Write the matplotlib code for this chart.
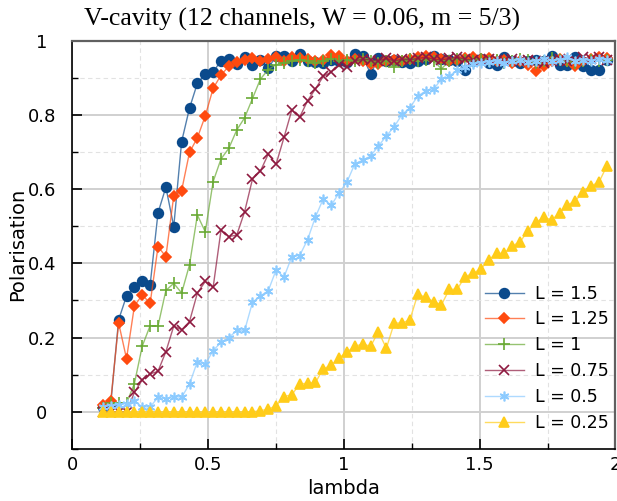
"""
V-cavity の偏極度プロット

12 チャネル, W = 0.06, m = 5/3 の条件で、L ごとの Polarisation を lambda に対して描く
"""

import matplotlib

matplotlib.use("Agg")
import matplotlib.pyplot as plt
from matplotlib.ticker import FuncFormatter, MultipleLocator

# lambda の標本点
lam = [
    0.112, 0.141, 0.170, 0.199, 0.228, 0.257, 0.286, 0.315, 0.344, 0.373,
    0.402, 0.431, 0.460, 0.489, 0.518, 0.547, 0.576, 0.605, 0.634, 0.663,
    0.692, 0.721, 0.750, 0.779, 0.808, 0.837, 0.866, 0.895, 0.924, 0.953,
    0.982, 1.011, 1.040, 1.069, 1.098, 1.127, 1.156, 1.185, 1.214, 1.243,
    1.272, 1.301, 1.330, 1.359, 1.388, 1.417, 1.446, 1.475, 1.504, 1.533,
    1.562, 1.591, 1.620, 1.649, 1.678, 1.707, 1.736, 1.765, 1.794, 1.823,
    1.852, 1.881, 1.910, 1.939, 1.968,
]

pol_L150 = [
    0.014, 0.022, 0.248, 0.312, 0.337, 0.353, 0.342, 0.536, 0.605, 0.499,
    0.728, 0.818, 0.885, 0.909, 0.915, 0.946, 0.950, 0.937, 0.956, 0.934,
    0.947, 0.925, 0.959, 0.959, 0.945, 0.963, 0.945, 0.943, 0.940, 0.948,
    0.945, 0.942, 0.963, 0.958, 0.910, 0.952, 0.945, 0.948, 0.942, 0.940,
    0.945, 0.950, 0.958, 0.950, 0.948, 0.945, 0.922, 0.945, 0.950, 0.940,
    0.934, 0.955, 0.945, 0.940, 0.945, 0.948, 0.945, 0.958, 0.934, 0.934,
    0.956, 0.932, 0.922, 0.922, 0.947,
]

pol_L125 = [
    0.019, 0.030, 0.239, 0.143, 0.285, 0.315, 0.292, 0.445, 0.418, 0.582,
    0.596, 0.699, 0.738, 0.797, 0.871, 0.907, 0.931, 0.941, 0.948, 0.952,
    0.945, 0.950, 0.955, 0.945, 0.955, 0.952, 0.950, 0.945, 0.948, 0.961,
    0.958, 0.945, 0.950, 0.945, 0.936, 0.936, 0.945, 0.948, 0.945, 0.950,
    0.955, 0.958, 0.955, 0.950, 0.945, 0.948, 0.952, 0.955, 0.950, 0.952,
    0.945, 0.948, 0.940, 0.945, 0.935, 0.918, 0.931, 0.945, 0.950, 0.945,
    0.931, 0.945, 0.950, 0.955, 0.952,
]

pol_L100 = [
    0.010, 0.023, 0.023, 0.023, 0.076, 0.177, 0.232, 0.231, 0.327, 0.346,
    0.320, 0.396, 0.530, 0.485, 0.620, 0.681, 0.710, 0.759, 0.792, 0.844,
    0.896, 0.922, 0.935, 0.940, 0.945, 0.948, 0.945, 0.940, 0.945, 0.950,
    0.945, 0.948, 0.945, 0.950, 0.945, 0.940, 0.945, 0.929, 0.945, 0.950,
    0.945, 0.948, 0.945, 0.924, 0.945, 0.950, 0.948, 0.945, 0.950, 0.945,
    0.948, 0.940, 0.945, 0.950, 0.948, 0.940, 0.945, 0.952, 0.948, 0.945,
    0.940, 0.945, 0.948, 0.945, 0.948,
]

pol_L075 = [
    0.000, 0.000, 0.000, 0.000, 0.052, 0.086, 0.102, 0.109, 0.162, 0.231,
    0.221, 0.243, 0.320, 0.351, 0.335, 0.489, 0.472, 0.476, 0.539, 0.627,
    0.648, 0.694, 0.667, 0.739, 0.813, 0.794, 0.838, 0.870, 0.904, 0.915,
    0.935, 0.930, 0.945, 0.950, 0.948, 0.945, 0.952, 0.945, 0.950, 0.948,
    0.952, 0.955, 0.950, 0.948, 0.952, 0.955, 0.950, 0.948, 0.945, 0.950,
    0.948, 0.945, 0.950, 0.945, 0.948, 0.945, 0.940, 0.945, 0.950, 0.945,
    0.948, 0.955, 0.950, 0.955, 0.948,
]

pol_L050 = [
    0.014, 0.016, 0.018, 0.022, 0.030, 0.013, 0.013, 0.039, 0.035, 0.041,
    0.039, 0.075, 0.135, 0.128, 0.165, 0.187, 0.200, 0.219, 0.219, 0.295,
    0.312, 0.326, 0.382, 0.363, 0.418, 0.421, 0.464, 0.525, 0.574, 0.556,
    0.590, 0.619, 0.668, 0.678, 0.689, 0.716, 0.743, 0.768, 0.801, 0.819,
    0.851, 0.864, 0.869, 0.896, 0.904, 0.921, 0.930, 0.936, 0.939, 0.942,
    0.945, 0.940, 0.945, 0.948, 0.942, 0.945, 0.950, 0.945, 0.948, 0.956,
    0.945, 0.948, 0.945, 0.950, 0.948,
]

pol_L025 = [
    0.000, 0.000, 0.000, 0.000, 0.000, 0.000, 0.000, 0.000, 0.000, 0.000,
    0.000, 0.000, 0.000, 0.000, 0.000, 0.000, 0.000, 0.000, 0.000, 0.000,
    0.003, 0.007, 0.016, 0.041, 0.046, 0.075, 0.077, 0.079, 0.116, 0.125,
    0.145, 0.161, 0.176, 0.183, 0.176, 0.216, 0.171, 0.239, 0.239, 0.248,
    0.317, 0.308, 0.297, 0.288, 0.330, 0.330, 0.364, 0.373, 0.385, 0.409,
    0.427, 0.427, 0.447, 0.458, 0.488, 0.510, 0.524, 0.517, 0.535, 0.557,
    0.568, 0.593, 0.609, 0.618, 0.662,
]

labels = ["L = 1.5", "L = 1.25", "L = 1", "L = 0.75", "L = 0.5", "L = 0.25"]
colors = ["#0a4a8c", "#ff4a0f", "#6aaa35", "#8e1a40", "#8ccbff", "#ffcc1a"]
markers = ["o", "D", "+", "x", (6, 2, 0), "^"]
msizes = [7, 5.5, 8, 7, 7, 6.5]


def fmt_num(v, _pos):
    """0.0 -> 0, 1.0 -> 1 のように余分なゼロを消す"""
    return f"{v:g}"


def main():
    plt.rcParams["font.family"] = ["DejaVu Sans"]

    fig = plt.figure(figsize=(6.17, 5.01), dpi=100)
    ax = fig.add_axes([0.1175, 0.104, 0.880, 0.815])

    series = [pol_L150, pol_L125, pol_L100, pol_L075, pol_L050, pol_L025]
    for ys, lab, c, m, ms in zip(series, labels, colors, markers, msizes):
        rgb = matplotlib.colors.to_rgb(c)
        ax.plot(
            lam, ys,
            color=(*rgb, 0.7), lw=1.0,
            marker=m, ms=ms, mew=1.2,
            markerfacecolor=rgb, markeredgecolor=rgb,
            label=lab,
        )

    ax.set_xlim(0, 2)
    ax.set_ylim(-0.1, 1)

    # 目盛りとグリッド
    ax.xaxis.set_major_locator(MultipleLocator(0.5))
    ax.xaxis.set_minor_locator(MultipleLocator(0.25))
    ax.yaxis.set_major_locator(MultipleLocator(0.2))
    ax.yaxis.set_minor_locator(MultipleLocator(0.1))
    ax.xaxis.set_major_formatter(FuncFormatter(fmt_num))
    ax.yaxis.set_major_formatter(FuncFormatter(fmt_num))
    ax.grid(which="major", color="#d0d0d0", lw=1.4, ls="-")
    ax.grid(which="minor", color="#e2e2e2", lw=0.8, ls=(0, (4, 3)))
    ax.set_axisbelow(True)

    ax.tick_params(which="both", direction="in", top=False, right=False,
                   labelsize=13, colors="black")
    ax.tick_params(which="major", length=7, width=1.2)
    ax.tick_params(which="minor", length=4, width=1.0)
    ax.tick_params(axis="x", pad=5)
    # y 目盛りラベルは中央揃え
    ax.tick_params(axis="y", pad=22)
    for t in ax.get_yticklabels():
        t.set_horizontalalignment("center")

    for side in ["left", "bottom"]:
        ax.spines[side].set_color("black")
        ax.spines[side].set_linewidth(1.2)
    for side in ["top", "right"]:
        ax.spines[side].set_color("#606060")
        ax.spines[side].set_linewidth(1.6)

    ax.set_xlabel("lambda", fontsize=14, labelpad=4)
    ax.set_ylabel("Polarisation", fontsize=14)
    ax.yaxis.set_label_coords(-0.084, 0.5)

    fig.text(0.49, 0.962, "V-cavity (12 channels, W = 0.06, m = 5/3)",
             family="Liberation Serif", fontsize=18.5, ha="center", va="center")

    ax.legend(loc="lower right", bbox_to_anchor=(1.0, 0.025),
              frameon=False, fontsize=12.5, borderaxespad=0.0,
              labelspacing=0.45, handlelength=2.25, handletextpad=0.63)

    fig.savefig("out.png", dpi=100)
    plt.close(fig)


if __name__ == "__main__":
    main()
